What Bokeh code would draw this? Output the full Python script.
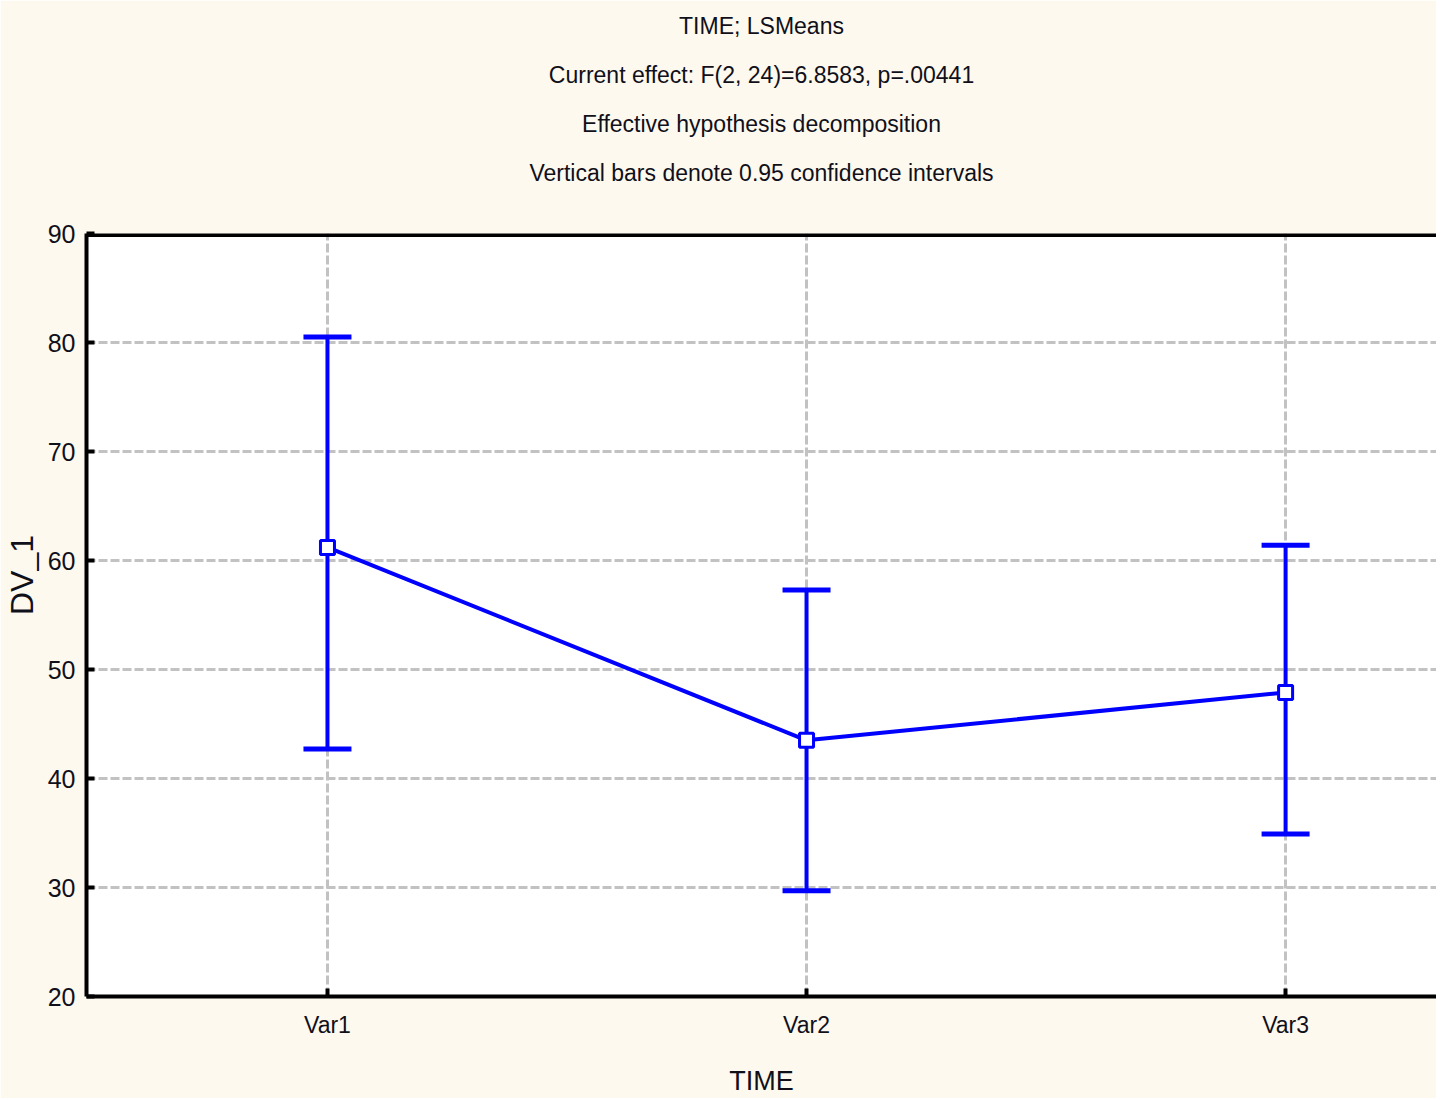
import math
from bokeh.plotting import figure
from bokeh.models import Title, Span, FixedTicker, Whisker, ColumnDataSource, TeeHead, Range1d
from bokeh.embed import file_html
from bokeh.resources import INLINE

categories = ["Var1", "Var2", "Var3"]
means = [61.2, 43.5, 47.9]
upper = [80.5, 57.3, 61.4]
lower = [42.7, 29.7, 34.9]
y_ticks = [20, 30, 40, 50, 60, 70, 80, 90]
title_lines = [
    "TIME; LSMeans",
    "Current effect: F(2, 24)=6.8583, p=.00441",
    "Effective hypothesis decomposition",
    "Vertical bars denote 0.95 confidence intervals",
]
x_label = "TIME"
y_label = "DV_1"

FONT = "'Liberation Sans', Arial, sans-serif"
BLUE = "#0000FF"
BG = "#FEF9EE"
TXT = "#10101A"

xs = list(range(1, len(categories) + 1))
src = ColumnDataSource(dict(x=xs, mean=means, upper=upper, lower=lower))

p = figure(
    output_backend="svg", toolbar_location=None,
    frame_width=1350, frame_height=763,
    x_range=Range1d(0.497, 3.315), y_range=Range1d(20, 90),
    min_border_left=86, min_border_right=0, min_border_top=233, min_border_bottom=0,
)
p.title.visible = False
p.background_fill_color = "white"
p.border_fill_color = BG
p.outline_line_color = None

# spacer between the title block and the frame
p.add_layout(Title(text=" ", text_font_size="10px", standoff=24,
                   text_color=BG), "above")
for line in reversed(title_lines):
    t = Title(text=line, align="center", text_font=FONT, text_font_size="23px",
              text_font_style="normal", text_color=TXT,
              standoff=21, offset=10)
    p.add_layout(t, "above")

# axes
for ax in (p.xaxis[0], p.yaxis[0]):
    ax.axis_line_width = 4
    ax.axis_line_color = "black"
    ax.major_tick_line_color = "black"
    ax.major_tick_line_width = 4
    ax.major_tick_in = 8
    ax.major_tick_out = 0
    ax.minor_tick_line_color = None
    ax.major_label_text_font = FONT
    ax.major_label_text_color = TXT

p.xaxis.ticker = FixedTicker(ticks=xs)
p.xaxis.major_label_overrides = {x: c for x, c in zip(xs, categories)}
p.xaxis.major_label_text_font_size = "23px"
p.xaxis.major_label_standoff = 15
p.xaxis.axis_label = x_label
p.xaxis.axis_label_text_font = FONT
p.xaxis.axis_label_text_font_size = "27px"
p.xaxis.axis_label_text_font_style = "normal"
p.xaxis.axis_label_text_color = TXT
p.xaxis.axis_label_standoff = 25

p.yaxis.ticker = FixedTicker(ticks=y_ticks)
p.yaxis.major_label_text_font_size = "25px"
p.yaxis.major_label_standoff = 11
# leading no-break spaces lift the label above the frame centre, as in the reference
p.yaxis.axis_label = "\u00a0" * 9 + y_label
p.yaxis.axis_label_text_font = FONT
p.yaxis.axis_label_text_font_size = "32px"
p.yaxis.axis_label_text_font_style = "normal"
p.yaxis.axis_label_text_color = TXT
p.yaxis.axis_label_standoff = 5

# grid
p.xgrid.ticker = FixedTicker(ticks=xs)
for g in (p.xgrid[0], p.ygrid[0]):
    g.grid_line_color = "#C2C2C2"
    g.grid_line_width = 3
    g.grid_line_dash = "9 3"

p.add_layout(Span(location=90, dimension="width", line_color="black", line_width=7))

w = Whisker(source=src, base="x", upper="upper", lower="lower", dimension="height",
            line_color=BLUE, line_width=4,
            upper_head=TeeHead(size=48, line_color=BLUE, line_width=5),
            lower_head=TeeHead(size=48, line_color=BLUE, line_width=5))
p.add_layout(w)

p.line("x", "mean", source=src, line_color=BLUE, line_width=4)
p.scatter("x", "mean", source=src, marker="square", size=14, fill_color="white",
          line_color=BLUE, line_width=3)

open("out.html", "w").write(file_html(p, INLINE))
